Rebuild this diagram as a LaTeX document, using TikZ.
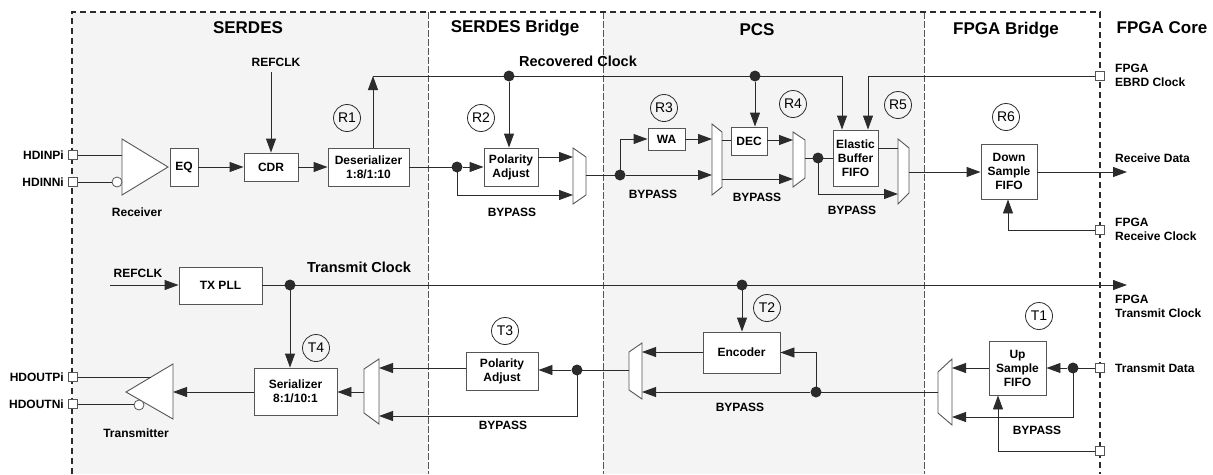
\documentclass[tikz,border=0pt]{standalone}
\usepackage{fontspec}
\setmainfont{Liberation Sans}
\usetikzlibrary{arrows.meta}
\definecolor{bgray}{HTML}{F4F4F4}
\definecolor{lc}{HTML}{2B2B2B}
\definecolor{bd}{HTML}{555555}
\begin{document}
\begin{tikzpicture}[x=1pt,y=-1pt,
 ln/.style={draw=lc,line width=0.9pt},
 ar/.style={ln,-{Triangle[length=14pt,width=10pt]}},
 bx/.style={draw=bd,fill=white,line width=0.9pt,inner sep=0pt,align=center,font=\fontsize{12}{14}\selectfont\bfseries},
 mx/.style={draw=bd,fill=white,line width=0.9pt},
 lb/.style={font=\fontsize{12}{14}\selectfont\bfseries,inner sep=0pt,align=left},
 tt/.style={font=\fontsize{17}{20}\selectfont\bfseries,inner sep=0pt},
 ck/.style={font=\fontsize{14.5}{17}\selectfont\bfseries,inner sep=0pt},
 cir/.style={draw=lc,circle,line width=0.8pt,minimum size=27pt,inner sep=0pt,font=\fontsize{14}{15}\selectfont},
 dotn/.style={circle,fill=lc,minimum size=11pt,inner sep=0pt},
 port/.style={draw=bd,fill=white,line width=0.8pt,minimum size=9pt,inner sep=0pt},
 bub/.style={circle,draw=bd,fill=white,line width=0.8pt,minimum size=10pt,inner sep=0pt},
]
\useasboundingbox (0,0) rectangle (1213,474);
% backgrounds
\fill[bgray] (72,12) rectangle (428,474);
\fill[bgray] (603,12) rectangle (924,474);
% separators
\draw[bd,line width=0.8pt,dash pattern=on 7pt off 2pt] (428,12) -- (428,474);
\draw[bd,line width=0.8pt,dash pattern=on 7pt off 2pt] (603,12) -- (603,474);
\draw[bd,line width=0.8pt,dash pattern=on 7pt off 2pt] (924,12) -- (924,474);
\draw[lc,line width=1.6pt,dash pattern=on 6pt off 4pt] (72,474) -- (72,12) -- (1100,12) -- (1100,474);
% titles
\node[tt] (tS) at (248,28) {SERDES};
\node[tt] (tSB) at (515,28) {SERDES Bridge};
\node[tt] (tP) at (757,30) {PCS};
\node[tt] (tFB) at (1006,30) {FPGA Bridge};
\node[tt] (tFC) at (1162,28) {FPGA Core};
% ---------------- boxes
\node[bx,minimum width=28pt,minimum height=38pt] (EQ) at (184,167) {EQ};
\node[bx,minimum width=54pt,minimum height=28pt] (CDR) at (271,167) {CDR};
\node[bx,minimum width=81pt,minimum height=38pt] (Deser) at (368.5,167) {Deserializer\\1:8/1:10};
\node[bx,minimum width=54pt,minimum height=38pt] (PolR) at (511,167) {Polarity\\Adjust};
\node[bx,minimum width=37pt,minimum height=22pt] (WA) at (666.5,139) {WA};
\node[bx,minimum width=36pt,minimum height=28pt] (DEC) at (749,141) {DEC};
\node[bx,minimum width=45pt,minimum height=56pt] (EB) at (855.5,158) {Elastic\\Buffer\\FIFO};
\node[bx,minimum width=56pt,minimum height=55pt] (DSF) at (1009,171.5) {Down\\Sample\\FIFO};
\node[bx,minimum width=83pt,minimum height=37pt] (TXPLL) at (220.5,285.5) {TX PLL};
\node[bx,minimum width=83pt,minimum height=47pt] (Ser) at (295.5,391.5) {Serializer\\8:1/10:1};
\node[bx,minimum width=72pt,minimum height=38pt] (PolT) at (502,371) {Polarity\\Adjust};
\node[bx,minimum width=77pt,minimum height=41pt] (Enc) at (741.5,352.5) {Encoder};
\node[bx,minimum width=57pt,minimum height=54pt] (USF) at (1017.5,368) {Up\\Sample\\FIFO};
% ---------------- muxes
\draw[mx] (573,148) -- (586,157) -- (586,195) -- (573,204) -- cycle;
\draw[mx] (712,124) -- (722,132) -- (722,187) -- (712,195) -- cycle;
\draw[mx] (793,132) -- (805,140) -- (805,178) -- (793,187) -- cycle;
\draw[mx] (898,139) -- (909,148) -- (909,193) -- (898,204) -- cycle;
\draw[mx] (364,369) -- (379,359) -- (379,424) -- (364,413) -- cycle;
\draw[mx] (629,352) -- (642,343) -- (642,399) -- (629,390) -- cycle;
\draw[mx] (938,372) -- (952,359) -- (952,425) -- (938,413) -- cycle;
\coordinate (m1a) at (573,157); \coordinate (m1b) at (573,195); \coordinate (m1o) at (586,175);
\coordinate (m2a) at (712,139); \coordinate (m2b) at (712,175);
\coordinate (m2o1) at (722,140); \coordinate (m2o2) at (722,179);
\coordinate (m3a) at (793,140); \coordinate (m3b) at (793,179); \coordinate (m3o) at (805,158);
\coordinate (m4a) at (898,148); \coordinate (m4b) at (898,194); \coordinate (m4o) at (909,172);
\coordinate (m5a) at (379,368); \coordinate (m5b) at (379,416); \coordinate (m5o) at (364,392);
\coordinate (m6a) at (642,352); \coordinate (m6b) at (642,392); \coordinate (m6o) at (629,370);
\coordinate (m7a) at (952,368); \coordinate (m7b) at (952,417); \coordinate (m7o) at (938,392);
% ---------------- receiver / transmitter
\coordinate (rxa) at (122,139); \coordinate (rxb) at (122,195); \coordinate (rxt) at (168,167);
\draw[mx] (rxa) -- (rxt) -- (rxb) -- cycle;
\node[bub] (rxbub) at (117,182) {};
\coordinate (txt) at (126,392); \coordinate (txa) at (173,364); \coordinate (txb) at (173,419);
\coordinate (txr) at (173,392);
\draw[mx] (txt) -- (txa) -- (txb) -- cycle;
\node[bub] (txbub) at (139,405) {};
% ---------------- ports
\node[port] (p1) at (73,155) {};
\node[port] (p2) at (73,182) {};
\node[port] (p3) at (73,377) {};
\node[port] (p4) at (73,404) {};
\node[port] (pEB) at (1100,76) {};
\node[port] (pRC) at (1100,230) {};
\node[port] (pTD) at (1100,368) {};
\node[port] (pB) at (1100,451) {};
% ---------------- coordinates
\coordinate (refa) at (271,72);
\coordinate (rc0) at (373,76); \coordinate (rc1) at (842,76);
\coordinate (eb2) at (868,76);
\coordinate (rdat) at (1127,172);
\coordinate (rcx) at (1008,230);
\coordinate (ref2) at (110,285);
\coordinate (tclk) at (1127,285);
\coordinate (bx2) at (998,451);
\coordinate (hop) at (151,377);
% ---------------- receive connections
\draw[ln] (p1.east) -- (p1 -| rxa);
\draw[ln] (p2.east) -- (rxbub.west);
\draw[ar] (EQ) -- (CDR);
\draw[ar] (refa) -- (CDR.north);
\draw[ar] (CDR) -- (Deser);
\draw[ar] (Deser.north -| rc0) -- (rc0);
\draw[ln] (rc0) -- (rc1);
\draw[ar] (rc1) -- (EB.north -| rc1);
\draw[ar] (pEB.west) -- (eb2) -- (EB.north -| eb2);
\node[dotn] (d1) at (457,167) {};
\node[dotn] (d2) at (509,76) {};
\node[dotn] (d3) at (755,76) {};
\node[dotn] (d4) at (620,175) {};
\node[dotn] (d5) at (818,158) {};
\draw[ln] (Deser.east) -- (d1.center);
\draw[ar] (d1) -- (PolR);
\draw[ar] (d1.center) |- (m1b);
\draw[ar] (PolR.east |- m1a) -- (m1a);
\draw[ar] (d2) -- (PolR.north -| d2);
\draw[ar] (d3) -- (DEC.north -| d3);
\draw[ln] (m1o) -- (d4.center);
\draw[ar] (d4) -- (m2b);
\draw[ar] (d4.center) |- (WA.west);
\draw[ar] (WA) -- (m2a);
\draw[ln] (m2o1) -- (DEC.west |- m2o1);
\draw[ar] (DEC.east |- m3a) -- (m3a);
\draw[ar] (m2o2) -- (m3b);
\draw[ln] (m3o) -- (EB.west |- m3o);
\draw[ar] (d5.center) |- (m4b);
\draw[ln] (EB.east |- m4a) -- (m4a);
\draw[ar] (m4o) -- (DSF.west |- m4o);
\draw[ar] (DSF.east |- m4o) -- (rdat);
\draw[ar] (pRC.west) -- (rcx) -- (DSF.south -| rcx);
% ---------------- transmit connections
\node[dotn] (d6) at (290,285) {};
\node[dotn] (d7) at (742,285) {};
\node[dotn] (d8) at (577,370) {};
\node[dotn] (d9) at (816,392) {};
\node[dotn] (d10) at (1073,368) {};
\draw[ar] (ref2) -- (TXPLL.west |- ref2);
\draw[ar] (TXPLL.east |- ref2) -- (tclk);
\draw[ar] (d6.center) -- (Ser.north -| d6);
\draw[ar] (Ser.west |- txr) -- (txr);
\draw[ln] (p3.east) -- (hop);
\draw[ln] (p4.east) -- (p4 -| txbub.west);
\draw[ar] (m5o) -- (Ser.east |- m5o);
\draw[ar] (PolT.west |- m5a) -- (m5a);
\draw[ar] (d8) -- (PolT.east |- d8);
\draw[ar] (d8.center) |- (m5b);
\draw[ln] (m6o) -- (d8.center);
\draw[ar] (d7.center) -- (Enc.north -| d7);
\draw[ar] (Enc.west |- m6a) -- (m6a);
\draw[ar] (d9) -- (m6b);
\draw[ar] (d9.center) |- (Enc.east);
\draw[ln] (m7o) -- (d9.center);
\draw[ar] (USF.west) -- (m7a);
\draw[ln] (pTD.west) -- (d10.center);
\draw[ar] (d10) -- (USF.east);
\draw[ar] (d10.center) |- (m7b);
\draw[ar] (pB.west) -- (bx2) -- (USF.south -| bx2);
% ---------------- labels
\node[lb,anchor=east] (lHP) at (64,155) {HDINPi};
\node[lb,anchor=east] (lHN) at (64,182) {HDINNi};
\node[lb] (lRx) at (137,212) {Receiver};
\node[lb] (lRef) at (276,62) {REFCLK};
\node[ck] (lRC) at (578,61) {Recovered Clock};
\node[lb] (bp1) at (512,212) {BYPASS};
\node[lb] (bp2) at (653,194) {BYPASS};
\node[lb] (bp3) at (757,197) {BYPASS};
\node[lb] (bp4) at (852,210) {BYPASS};
\node[lb,anchor=west] (lEB) at (1115,75) {FPGA\\EBRD Clock};
\node[lb,anchor=west] (lRD) at (1115,158) {Receive Data};
\node[lb,anchor=west] (lRCk) at (1115,229) {FPGA\\Receive Clock};
\node[lb] (lRef2) at (138,273) {REFCLK};
\node[ck] (lTC) at (359,267) {Transmit Clock};
\node[lb,anchor=west] (lTCk) at (1115,306) {FPGA\\Transmit Clock};
\node[lb,anchor=west] (lTD) at (1115,368) {Transmit Data};
\node[lb,anchor=east] (lOP) at (64,377) {HDOUTPi};
\node[lb,anchor=east] (lON) at (64,404) {HDOUTNi};
\node[lb] (lTx) at (136,433) {Transmitter};
\node[lb] (bp5) at (503,425) {BYPASS};
\node[lb] (bp6) at (740,407) {BYPASS};
\node[lb] (bp7) at (1037,430) {BYPASS};
% ---------------- circle labels
\node[cir] (R1) at (347,118) {R1};
\node[cir] (R2) at (481,118) {R2};
\node[cir] (R3) at (664,108) {R3};
\node[cir] (R4) at (793,104) {R4};
\node[cir] (R5) at (898,105) {R5};
\node[cir] (R6) at (1006,117) {R6};
\node[cir] (T4) at (316,348) {T4};
\node[cir] (T3) at (505,331) {T3};
\node[cir] (T2) at (767,308) {T2};
\node[cir] (T1) at (1039,316) {T1};
\end{tikzpicture}
\end{document}
